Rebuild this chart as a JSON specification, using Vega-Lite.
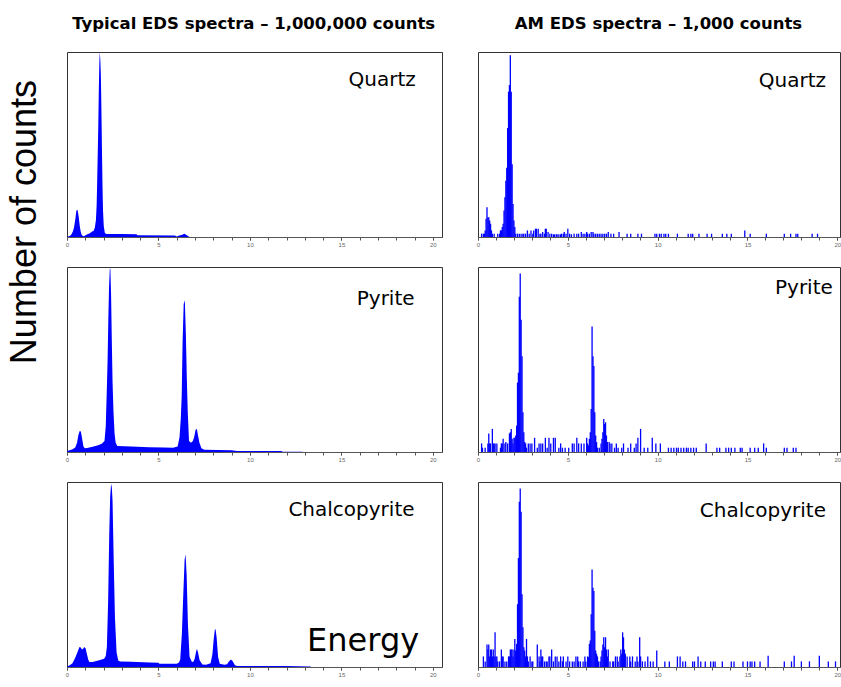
{
  "$schema": "https://vega.github.io/schema/vega-lite/v6.json",
  "background": "white",
  "padding": {"left": 6, "top": 16, "right": 0, "bottom": 2},
  "title": {"text": "Number of counts", "orient": "left", "anchor": "end", "font": "Liberation Sans", "fontSize": 36, "fontWeight": "normal", "color": "#000", "offset": 21, "dx": -64},
  "spacing": 32,
  "datasets": {
    "tq": [{"e":0,"c":0},{"e":0.05,"c":0.3},{"e":0.15,"c":0.5},{"e":0.24,"c":1.3},{"e":0.32,"c":3},{"e":0.38,"c":5},{"e":0.46,"c":10},{"e":0.51,"c":14},{"e":0.55,"c":14.7},{"e":0.58,"c":14.5},{"e":0.64,"c":11},{"e":0.7,"c":5.8},{"e":0.75,"c":2.8},{"e":0.8,"c":1.2},{"e":0.88,"c":0.4},{"e":0.95,"c":0.6},{"e":1.06,"c":1.2},{"e":1.25,"c":2},{"e":1.37,"c":3},{"e":1.45,"c":3.2},{"e":1.52,"c":5},{"e":1.58,"c":9},{"e":1.62,"c":17},{"e":1.65,"c":30},{"e":1.68,"c":45},{"e":1.71,"c":60},{"e":1.74,"c":80},{"e":1.77,"c":95},{"e":1.79,"c":100},{"e":1.82,"c":96},{"e":1.85,"c":88},{"e":1.88,"c":70},{"e":1.91,"c":48},{"e":1.94,"c":28},{"e":1.97,"c":14},{"e":2.01,"c":6},{"e":2.07,"c":2.2},{"e":2.15,"c":1.6},{"e":3.0,"c":1.6},{"e":3.8,"c":1.5},{"e":3.85,"c":0.9},{"e":5.9,"c":0.8},{"e":6.0,"c":0.3},{"e":6.1,"c":0.7},{"e":6.3,"c":1.2},{"e":6.42,"c":1.7},{"e":6.55,"c":1.0},{"e":6.65,"c":0.3},{"e":6.7,"c":0}],
    "tp": [{"e":0,"c":0.5},{"e":0.1,"c":0.8},{"e":0.3,"c":1.5},{"e":0.45,"c":2.5},{"e":0.55,"c":5},{"e":0.62,"c":9},{"e":0.7,"c":11.5},{"e":0.76,"c":11},{"e":0.83,"c":7},{"e":0.9,"c":3},{"e":0.97,"c":2},{"e":1.1,"c":2.2},{"e":1.4,"c":2.8},{"e":1.7,"c":3.6},{"e":1.9,"c":4.5},{"e":2.05,"c":6},{"e":2.12,"c":14},{"e":2.18,"c":35},{"e":2.22,"c":50},{"e":2.26,"c":72},{"e":2.3,"c":90},{"e":2.34,"c":99},{"e":2.37,"c":99},{"e":2.41,"c":85},{"e":2.45,"c":60},{"e":2.49,"c":38},{"e":2.54,"c":22},{"e":2.6,"c":10},{"e":2.66,"c":5},{"e":2.75,"c":3.2},{"e":3.5,"c":3},{"e":4.5,"c":2.6},{"e":5.3,"c":2.4},{"e":5.8,"c":2.3},{"e":6.05,"c":3},{"e":6.15,"c":8},{"e":6.22,"c":18},{"e":6.27,"c":30},{"e":6.32,"c":60},{"e":6.38,"c":80},{"e":6.44,"c":82},{"e":6.5,"c":63},{"e":6.55,"c":40},{"e":6.6,"c":22},{"e":6.67,"c":6},{"e":6.78,"c":5},{"e":6.88,"c":6},{"e":6.95,"c":8},{"e":7.03,"c":12},{"e":7.1,"c":12.5},{"e":7.16,"c":9},{"e":7.24,"c":5},{"e":7.35,"c":2},{"e":7.5,"c":1.2},{"e":9.0,"c":1.0},{"e":9.3,"c":0.6},{"e":11.7,"c":0.5},{"e":11.8,"c":0.2},{"e":12.85,"c":0.2},{"e":12.9,"c":0}],
    "tc": [{"e":0,"c":0.3},{"e":0.15,"c":1},{"e":0.3,"c":2},{"e":0.45,"c":5},{"e":0.57,"c":8},{"e":0.68,"c":10.8},{"e":0.75,"c":10.5},{"e":0.82,"c":9.5},{"e":0.88,"c":9.8},{"e":0.95,"c":10.8},{"e":1.02,"c":10},{"e":1.1,"c":6.5},{"e":1.16,"c":4},{"e":1.22,"c":2.7},{"e":1.4,"c":2.7},{"e":1.76,"c":3.6},{"e":2.03,"c":4.5},{"e":2.12,"c":6},{"e":2.18,"c":11},{"e":2.25,"c":36},{"e":2.31,"c":72},{"e":2.36,"c":92},{"e":2.41,"c":99},{"e":2.45,"c":97},{"e":2.49,"c":90},{"e":2.55,"c":59},{"e":2.62,"c":27},{"e":2.71,"c":8},{"e":2.8,"c":3.5},{"e":2.9,"c":3},{"e":3.5,"c":2.8},{"e":4.5,"c":2.5},{"e":5.0,"c":2.3},{"e":5.05,"c":1.8},{"e":6.0,"c":1.8},{"e":6.12,"c":2.5},{"e":6.19,"c":4},{"e":6.28,"c":18},{"e":6.36,"c":40},{"e":6.43,"c":58},{"e":6.48,"c":61},{"e":6.54,"c":50},{"e":6.61,"c":23},{"e":6.7,"c":5.5},{"e":6.83,"c":2.7},{"e":6.92,"c":3},{"e":6.98,"c":4.5},{"e":7.05,"c":8},{"e":7.1,"c":9.9},{"e":7.16,"c":8},{"e":7.25,"c":3.6},{"e":7.4,"c":1.3},{"e":7.6,"c":1.2},{"e":7.85,"c":2},{"e":7.95,"c":7},{"e":8.02,"c":15},{"e":8.08,"c":20},{"e":8.12,"c":20.5},{"e":8.18,"c":16},{"e":8.26,"c":5.4},{"e":8.35,"c":1.8},{"e":8.6,"c":1.2},{"e":8.75,"c":1.5},{"e":8.85,"c":3},{"e":8.96,"c":4},{"e":9.05,"c":3.2},{"e":9.18,"c":1},{"e":9.3,"c":0.6},{"e":12,"c":0.5},{"e":13.3,"c":0.3},{"e":13.35,"c":0}],
    "aq": [{"e":0.2,"c":1},{"e":0.3,"c":1},{"e":0.35,"c":1},{"e":0.4,"c":2},{"e":0.45,"c":5.5},{"e":0.5,"c":9},{"e":0.55,"c":6},{"e":0.6,"c":6},{"e":0.65,"c":5},{"e":0.7,"c":4},{"e":0.75,"c":2},{"e":0.8,"c":1},{"e":0.9,"c":1},{"e":1.1,"c":1},{"e":1.2,"c":1},{"e":1.25,"c":2},{"e":1.3,"c":2},{"e":1.35,"c":3},{"e":1.4,"c":4},{"e":1.45,"c":8},{"e":1.5,"c":12},{"e":1.55,"c":17},{"e":1.6,"c":21},{"e":1.65,"c":33},{"e":1.7,"c":44},{"e":1.75,"c":46},{"e":1.8,"c":55},{"e":1.85,"c":44},{"e":1.9,"c":22},{"e":1.95,"c":10},{"e":2.0,"c":5},{"e":2.05,"c":3},{"e":2.1,"c":1},{"e":2.2,"c":1},{"e":2.3,"c":1},{"e":2.4,"c":1},{"e":2.5,"c":1},{"e":2.55,"c":1},{"e":2.65,"c":1},{"e":2.75,"c":2},{"e":2.85,"c":1},{"e":2.95,"c":2},{"e":3.05,"c":1},{"e":3.1,"c":2},{"e":3.2,"c":2.5},{"e":3.25,"c":2.5},{"e":3.35,"c":2.5},{"e":3.45,"c":1},{"e":3.5,"c":1},{"e":3.6,"c":1.5},{"e":3.7,"c":1},{"e":3.75,"c":2.5},{"e":3.8,"c":2.5},{"e":3.9,"c":1.5},{"e":4.0,"c":1},{"e":4.1,"c":1},{"e":4.2,"c":0.8},{"e":4.25,"c":0.8},{"e":4.35,"c":0.8},{"e":4.4,"c":0.8},{"e":4.5,"c":0.8},{"e":4.6,"c":0.8},{"e":4.65,"c":1},{"e":4.75,"c":1},{"e":4.8,"c":1.5},{"e":4.9,"c":1},{"e":5.0,"c":2.5},{"e":5.1,"c":1},{"e":5.2,"c":0.8},{"e":5.35,"c":1},{"e":5.5,"c":1},{"e":5.6,"c":1},{"e":5.75,"c":1.5},{"e":5.85,"c":1},{"e":5.95,"c":1},{"e":6.05,"c":1.5},{"e":6.1,"c":1},{"e":6.2,"c":1},{"e":6.3,"c":1.5},{"e":6.4,"c":1.5},{"e":6.45,"c":1},{"e":6.55,"c":1},{"e":6.65,"c":1},{"e":6.75,"c":1},{"e":6.85,"c":1},{"e":6.95,"c":1},{"e":7.05,"c":1},{"e":7.15,"c":1},{"e":7.25,"c":1.5},{"e":7.4,"c":1},{"e":7.55,"c":1},{"e":7.85,"c":1.5},{"e":8.3,"c":1},{"e":8.5,"c":1},{"e":8.9,"c":1},{"e":9.1,"c":1},{"e":9.85,"c":1},{"e":9.95,"c":1},{"e":10.1,"c":1},{"e":10.2,"c":1},{"e":10.35,"c":1},{"e":10.45,"c":1},{"e":10.6,"c":1},{"e":11.1,"c":1},{"e":11.7,"c":1},{"e":11.85,"c":1},{"e":11.95,"c":1},{"e":12.3,"c":1},{"e":12.75,"c":1},{"e":13.0,"c":1},{"e":13.6,"c":1},{"e":13.85,"c":1},{"e":14.1,"c":1},{"e":14.85,"c":2},{"e":15.15,"c":1},{"e":16.05,"c":1},{"e":17.05,"c":1},{"e":17.4,"c":1},{"e":17.7,"c":1},{"e":17.8,"c":1},{"e":18.6,"c":1},{"e":18.9,"c":1}],
    "ap": [{"e":0.2,"c":2.6},{"e":0.25,"c":1.3},{"e":0.4,"c":1.3},{"e":0.55,"c":2.6},{"e":0.6,"c":5.6},{"e":0.65,"c":2.6},{"e":0.7,"c":2.6},{"e":0.8,"c":7},{"e":0.85,"c":2.6},{"e":0.9,"c":2.6},{"e":0.95,"c":2.6},{"e":1.05,"c":2.6},{"e":1.25,"c":1.3},{"e":1.3,"c":2.6},{"e":1.35,"c":2.6},{"e":1.4,"c":4},{"e":1.5,"c":2.6},{"e":1.55,"c":3},{"e":1.65,"c":2.6},{"e":1.75,"c":5.6},{"e":1.8,"c":6},{"e":1.85,"c":7},{"e":1.9,"c":4},{"e":1.95,"c":2.6},{"e":2.0,"c":4.3},{"e":2.05,"c":4.3},{"e":2.1,"c":5},{"e":2.15,"c":8},{"e":2.2,"c":21},{"e":2.25,"c":24},{"e":2.3,"c":47},{"e":2.35,"c":54},{"e":2.4,"c":40},{"e":2.45,"c":29},{"e":2.5,"c":12},{"e":2.55,"c":6},{"e":2.6,"c":3},{"e":2.65,"c":2.6},{"e":2.7,"c":1.3},{"e":2.8,"c":2.6},{"e":2.9,"c":2.6},{"e":3.0,"c":2.6},{"e":3.15,"c":4.3},{"e":3.3,"c":1.3},{"e":3.4,"c":2.6},{"e":3.5,"c":2.6},{"e":3.6,"c":2.6},{"e":3.75,"c":4.3},{"e":3.85,"c":1.3},{"e":3.95,"c":4.3},{"e":4.05,"c":2.6},{"e":4.2,"c":4.3},{"e":4.3,"c":4.3},{"e":4.5,"c":1.3},{"e":4.6,"c":2.6},{"e":4.7,"c":1.3},{"e":4.85,"c":1.3},{"e":5.05,"c":1.3},{"e":5.25,"c":2.6},{"e":5.35,"c":2.6},{"e":5.5,"c":4.3},{"e":5.6,"c":2.6},{"e":5.75,"c":2.6},{"e":5.9,"c":2.6},{"e":6.05,"c":4.3},{"e":6.1,"c":2.6},{"e":6.15,"c":2},{"e":6.2,"c":4},{"e":6.25,"c":6},{"e":6.3,"c":13},{"e":6.35,"c":38},{"e":6.4,"c":29},{"e":6.45,"c":26},{"e":6.5,"c":12},{"e":6.55,"c":5},{"e":6.6,"c":3},{"e":6.65,"c":1.3},{"e":6.75,"c":1.3},{"e":6.85,"c":2.6},{"e":6.9,"c":4},{"e":6.95,"c":6},{"e":7.0,"c":10},{"e":7.05,"c":8.5},{"e":7.1,"c":9},{"e":7.15,"c":5},{"e":7.2,"c":3},{"e":7.3,"c":3},{"e":7.35,"c":2.6},{"e":7.45,"c":2.6},{"e":7.6,"c":1.3},{"e":7.7,"c":2.6},{"e":7.8,"c":1.3},{"e":8.0,"c":1.3},{"e":8.1,"c":2.6},{"e":8.35,"c":1.3},{"e":8.5,"c":2.6},{"e":8.7,"c":1.3},{"e":8.8,"c":2.6},{"e":8.9,"c":4.3},{"e":9.05,"c":7},{"e":9.25,"c":1.3},{"e":9.45,"c":1.3},{"e":9.7,"c":4.3},{"e":9.9,"c":2.6},{"e":10.15,"c":2.6},{"e":10.6,"c":1.3},{"e":10.75,"c":1.3},{"e":10.9,"c":1.3},{"e":11.05,"c":1.3},{"e":11.15,"c":1.3},{"e":11.3,"c":1.3},{"e":11.45,"c":1.3},{"e":11.6,"c":1.3},{"e":11.7,"c":1.3},{"e":11.85,"c":1.3},{"e":12.0,"c":1.3},{"e":12.15,"c":1.3},{"e":12.7,"c":2.6},{"e":13.3,"c":1.3},{"e":13.45,"c":1.3},{"e":13.8,"c":1.3},{"e":13.95,"c":1.3},{"e":14.1,"c":1.3},{"e":14.3,"c":1.3},{"e":14.6,"c":1.3},{"e":14.7,"c":1.3},{"e":15.15,"c":1.3},{"e":15.4,"c":1.3},{"e":15.6,"c":1.3},{"e":15.9,"c":2.6},{"e":16.05,"c":1.3},{"e":17.05,"c":1.3},{"e":17.2,"c":1.3},{"e":17.55,"c":1.3},{"e":17.7,"c":1.3}],
    "ac": [{"e":0.3,"c":3.2},{"e":0.4,"c":1.7},{"e":0.5,"c":6.8},{"e":0.55,"c":5.3},{"e":0.6,"c":6.8},{"e":0.65,"c":3.2},{"e":0.7,"c":5.3},{"e":0.75,"c":5.3},{"e":0.8,"c":3.2},{"e":0.85,"c":5.3},{"e":0.9,"c":3.2},{"e":0.95,"c":10.5},{"e":1.0,"c":3.2},{"e":1.05,"c":3.2},{"e":1.1,"c":1.7},{"e":1.2,"c":1.7},{"e":1.3,"c":5.3},{"e":1.35,"c":3.2},{"e":1.4,"c":3.2},{"e":1.5,"c":1.7},{"e":1.6,"c":1.7},{"e":1.7,"c":3.2},{"e":1.75,"c":3.2},{"e":1.8,"c":5.3},{"e":1.85,"c":5.3},{"e":1.9,"c":5.3},{"e":1.95,"c":3.2},{"e":2.0,"c":5.3},{"e":2.05,"c":8.5},{"e":2.1,"c":5},{"e":2.15,"c":7},{"e":2.2,"c":19},{"e":2.25,"c":33},{"e":2.3,"c":50},{"e":2.35,"c":54},{"e":2.4,"c":47},{"e":2.45,"c":22},{"e":2.5,"c":12},{"e":2.55,"c":6},{"e":2.6,"c":5},{"e":2.65,"c":3.2},{"e":2.7,"c":8.5},{"e":2.75,"c":3.2},{"e":2.8,"c":1.7},{"e":2.9,"c":3.2},{"e":3.0,"c":1.7},{"e":3.05,"c":1.7},{"e":3.3,"c":6.8},{"e":3.4,"c":3.2},{"e":3.45,"c":1.7},{"e":3.5,"c":5.3},{"e":3.55,"c":3.2},{"e":3.6,"c":3.2},{"e":3.7,"c":1.7},{"e":3.8,"c":1.7},{"e":3.85,"c":1.7},{"e":3.95,"c":3.2},{"e":4.0,"c":3.2},{"e":4.1,"c":5.3},{"e":4.2,"c":1.7},{"e":4.3,"c":3.2},{"e":4.4,"c":3.2},{"e":4.5,"c":1.7},{"e":4.6,"c":3.2},{"e":4.7,"c":1.7},{"e":4.75,"c":3.2},{"e":4.9,"c":1.7},{"e":5.0,"c":3.2},{"e":5.1,"c":1.7},{"e":5.25,"c":1.7},{"e":5.35,"c":1.7},{"e":5.45,"c":3.2},{"e":5.55,"c":3.2},{"e":5.6,"c":1.7},{"e":5.7,"c":1.7},{"e":5.85,"c":1.7},{"e":5.95,"c":3.2},{"e":6.0,"c":1.7},{"e":6.1,"c":3.2},{"e":6.15,"c":3},{"e":6.2,"c":7},{"e":6.25,"c":8},{"e":6.3,"c":16},{"e":6.35,"c":29.5},{"e":6.4,"c":24},{"e":6.45,"c":23},{"e":6.5,"c":11},{"e":6.55,"c":5},{"e":6.6,"c":4},{"e":6.65,"c":3.2},{"e":6.7,"c":1.7},{"e":6.8,"c":1.7},{"e":6.85,"c":3.2},{"e":6.9,"c":5},{"e":6.95,"c":6.8},{"e":7.0,"c":9},{"e":7.05,"c":6},{"e":7.1,"c":9},{"e":7.15,"c":5.3},{"e":7.2,"c":3.2},{"e":7.25,"c":5.3},{"e":7.35,"c":1.7},{"e":7.5,"c":1.7},{"e":7.55,"c":1.7},{"e":7.65,"c":3.2},{"e":7.75,"c":3.2},{"e":7.8,"c":1.7},{"e":7.9,"c":3.2},{"e":7.95,"c":5.3},{"e":8.0,"c":4},{"e":8.05,"c":10.5},{"e":8.1,"c":9},{"e":8.15,"c":5.3},{"e":8.2,"c":4},{"e":8.3,"c":3.2},{"e":8.45,"c":3.2},{"e":8.5,"c":1.7},{"e":8.6,"c":3.2},{"e":8.75,"c":1.7},{"e":8.85,"c":3.2},{"e":8.9,"c":1.7},{"e":9.0,"c":9},{"e":9.05,"c":3.2},{"e":9.15,"c":1.7},{"e":9.3,"c":1.7},{"e":9.45,"c":3.2},{"e":9.6,"c":1.7},{"e":9.75,"c":1.7},{"e":9.95,"c":5},{"e":10.4,"c":1.7},{"e":10.65,"c":1.7},{"e":11.1,"c":3.2},{"e":11.25,"c":3.2},{"e":11.4,"c":1.7},{"e":11.55,"c":1.7},{"e":11.95,"c":1.7},{"e":12.05,"c":1.7},{"e":12.25,"c":3.2},{"e":12.4,"c":1.7},{"e":12.65,"c":1.7},{"e":12.95,"c":1.7},{"e":13.1,"c":1.7},{"e":13.2,"c":1.7},{"e":13.6,"c":1.7},{"e":14.1,"c":1.7},{"e":14.25,"c":1.7},{"e":14.75,"c":1.7},{"e":15.0,"c":1.7},{"e":15.15,"c":1.7},{"e":15.25,"c":1.7},{"e":15.4,"c":1.7},{"e":15.7,"c":1.7},{"e":16.15,"c":3.4},{"e":17.05,"c":1.7},{"e":17.45,"c":1.7},{"e":17.6,"c":3.4},{"e":18.0,"c":1.7},{"e":18.45,"c":1.7},{"e":19.0,"c":3.4},{"e":19.5,"c":1.7},{"e":19.9,"c":1.7}]
  },
  "hconcat": [
    {
      "title": {"text": "Typical EDS spectra – 1,000,000 counts", "anchor": "middle", "font": "DejaVu Sans", "fontSize": 16.5, "fontWeight": "bold", "color": "#000", "offset": 19},
      "spacing": 18,
      "vconcat": [
        {"width": 375, "height": 185, "resolve": {"axis": {"x": "independent"}}, "layer": [
          {"data": {"name": "tq"}, "mark": {"type": "area", "color": "#0000ff", "interpolate": "linear"},
           "encoding": {"x": {"field": "e", "type": "quantitative", "scale": {"domain": [0, 20.5], "nice": false, "zero": false}, "axis": {"orient": "bottom", "values": [0,1,2,3,4,5,6,7,8,9,10,11,12,13,14,15,16,17,18,19,20], "labels": false}},
                        "y": {"field": "c", "type": "quantitative", "scale": {"domain": [0, 100], "nice": false}, "axis": null}}},
          {"data": {"values": [{"label": "Quartz"}]}, "mark": {"type": "text", "align": "right", "baseline": "alphabetic", "font": "DejaVu Sans", "fontSize": 20, "color": "#000"},
           "encoding": {"x": {"datum": 19.07, "type": "quantitative", "axis": {"orient": "bottom", "values": [0,5,10,15,20], "domain": false}}, "y": {"datum": 81.5}, "text": {"field": "label"}}}
        ]},
        {"width": 375, "height": 185, "resolve": {"axis": {"x": "independent"}}, "layer": [
          {"data": {"name": "tp"}, "mark": {"type": "area", "color": "#0000ff", "interpolate": "linear"},
           "encoding": {"x": {"field": "e", "type": "quantitative", "scale": {"domain": [0, 20.5], "nice": false, "zero": false}, "axis": {"orient": "bottom", "values": [0,1,2,3,4,5,6,7,8,9,10,11,12,13,14,15,16,17,18,19,20], "labels": false}},
                        "y": {"field": "c", "type": "quantitative", "scale": {"domain": [0, 100], "nice": false}, "axis": null}}},
          {"data": {"values": [{"label": "Pyrite"}]}, "mark": {"type": "text", "align": "right", "baseline": "alphabetic", "font": "DejaVu Sans", "fontSize": 20, "color": "#000"},
           "encoding": {"x": {"datum": 19.0, "type": "quantitative", "axis": {"orient": "bottom", "values": [0,5,10,15,20], "domain": false}}, "y": {"datum": 79.4}, "text": {"field": "label"}}}
        ]},
        {"width": 375, "height": 185, "resolve": {"axis": {"x": "independent"}}, "layer": [
          {"data": {"name": "tc"}, "mark": {"type": "area", "color": "#0000ff", "interpolate": "linear"},
           "encoding": {"x": {"field": "e", "type": "quantitative", "scale": {"domain": [0, 20.5], "nice": false, "zero": false}, "axis": {"orient": "bottom", "values": [0,1,2,3,4,5,6,7,8,9,10,11,12,13,14,15,16,17,18,19,20], "labels": false}},
                        "y": {"field": "c", "type": "quantitative", "scale": {"domain": [0, 100], "nice": false}, "axis": null}}},
          {"data": {"values": [{"label": "Chalcopyrite"}]}, "mark": {"type": "text", "align": "right", "baseline": "alphabetic", "font": "DejaVu Sans", "fontSize": 20, "color": "#000"},
           "encoding": {"x": {"datum": 19.0, "type": "quantitative", "axis": {"orient": "bottom", "values": [0,5,10,15,20], "domain": false}}, "y": {"datum": 81.6}, "text": {"field": "label"}}},
          {"data": {"values": [{"label": "Energy"}]}, "mark": {"type": "text", "align": "right", "baseline": "alphabetic", "font": "DejaVu Sans", "fontSize": 32, "color": "#000"},
           "encoding": {"x": {"datum": 19.25, "type": "quantitative", "axis": null}, "y": {"datum": 8.6}, "text": {"field": "label"}}}
        ]}
      ]
    },
    {
      "title": {"text": "AM EDS spectra – 1,000 counts", "anchor": "middle", "font": "DejaVu Sans", "fontSize": 16.5, "fontWeight": "bold", "color": "#000", "offset": 19},
      "spacing": 18,
      "vconcat": [
        {"width": 362, "height": 185, "resolve": {"axis": {"x": "independent"}}, "layer": [
          {"data": {"name": "aq"}, "mark": {"type": "rule", "color": "#0000ff", "strokeWidth": 1.3},
           "encoding": {"x": {"field": "e", "type": "quantitative", "scale": {"domain": [0, 20.15], "nice": false, "zero": false}, "axis": {"orient": "bottom", "values": [0,1,2,3,4,5,6,7,8,9,10,11,12,13,14,15,16,17,18,19,20], "labels": false}},
                        "y": {"field": "c", "type": "quantitative", "scale": {"domain": [0, 56], "nice": false}, "axis": null},
                        "y2": {"datum": 0}}},
          {"data": {"values": [{"label": "Quartz"}]}, "mark": {"type": "text", "align": "right", "baseline": "alphabetic", "font": "DejaVu Sans", "fontSize": 20, "color": "#000"},
           "encoding": {"x": {"datum": 19.37, "type": "quantitative", "axis": {"orient": "bottom", "values": [0,5,10,15,20], "domain": false}}, "y": {"datum": 45.5}, "text": {"field": "label"}}}
        ]},
        {"width": 362, "height": 185, "resolve": {"axis": {"x": "independent"}}, "layer": [
          {"data": {"name": "ap"}, "mark": {"type": "rule", "color": "#0000ff", "strokeWidth": 1.3},
           "encoding": {"x": {"field": "e", "type": "quantitative", "scale": {"domain": [0, 20.15], "nice": false, "zero": false}, "axis": {"orient": "bottom", "values": [0,1,2,3,4,5,6,7,8,9,10,11,12,13,14,15,16,17,18,19,20], "labels": false}},
                        "y": {"field": "c", "type": "quantitative", "scale": {"domain": [0, 56], "nice": false}, "axis": null},
                        "y2": {"datum": 0}}},
          {"data": {"values": [{"label": "Pyrite"}]}, "mark": {"type": "text", "align": "right", "baseline": "alphabetic", "font": "DejaVu Sans", "fontSize": 20, "color": "#000"},
           "encoding": {"x": {"datum": 19.75, "type": "quantitative", "axis": {"orient": "bottom", "values": [0,5,10,15,20], "domain": false}}, "y": {"datum": 47.9}, "text": {"field": "label"}}}
        ]},
        {"width": 362, "height": 185, "resolve": {"axis": {"x": "independent"}}, "layer": [
          {"data": {"name": "ac"}, "mark": {"type": "rule", "color": "#0000ff", "strokeWidth": 1.3},
           "encoding": {"x": {"field": "e", "type": "quantitative", "scale": {"domain": [0, 20.15], "nice": false, "zero": false}, "axis": {"orient": "bottom", "values": [0,1,2,3,4,5,6,7,8,9,10,11,12,13,14,15,16,17,18,19,20], "labels": false}},
                        "y": {"field": "c", "type": "quantitative", "scale": {"domain": [0, 56], "nice": false}, "axis": null},
                        "y2": {"datum": 0}}},
          {"data": {"values": [{"label": "Chalcopyrite"}]}, "mark": {"type": "text", "align": "right", "baseline": "alphabetic", "font": "DejaVu Sans", "fontSize": 20, "color": "#000"},
           "encoding": {"x": {"datum": 19.37, "type": "quantitative", "axis": {"orient": "bottom", "values": [0,5,10,15,20], "domain": false}}, "y": {"datum": 45.5}, "text": {"field": "label"}}}
        ]}
      ]
    }
  ],
  "config": {
    "view": {"stroke": "#333333", "strokeWidth": 1},
    "axis": {"grid": false, "title": null, "domainColor": "#555555", "tickColor": "#555555", "tickSize": 3, "labelFontSize": 6, "labelColor": "#666666", "labelPadding": 1, "labelFont": "Liberation Sans", "labelFlush": false, "labelOverlap": false}
  }
}
